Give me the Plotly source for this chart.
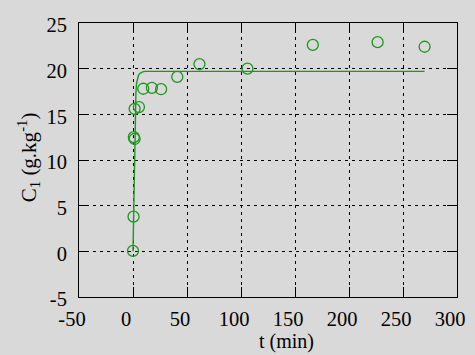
import plotly.graph_objects as go

# Measured data (t in min, C1 in g/kg)
t_obs = [0, 0.5, 0.8, 1.5, 1.5, 5.5, 9.5, 17.5, 26, 41, 61.5, 106, 166.5, 226.5, 270]
c_obs = [0.05, 3.8, 12.5, 12.3, 15.6, 15.8, 17.8, 17.9, 17.75, 19.1, 20.5, 20.0, 22.6, 22.9, 22.4]

# Model curve
t_fit = [0, 0.7, 1.4, 2.0, 2.7, 3.3, 4.0, 5.0, 6.0, 7.5, 9.0, 11, 270]
c_fit = [0, 6.0, 12.0, 15.2, 17.4, 18.4, 18.9, 19.25, 19.45, 19.6, 19.65, 19.7, 19.7]

x_ticks = [-50, 0, 50, 100, 150, 200, 250, 300]
y_ticks = [-5, 0, 5, 10, 15, 20, 25]

GREEN = "#1f961f"
BG = "#d9d9d9"
FONT = "Liberation Serif"

fig = go.Figure()
fig.add_trace(go.Scatter(x=t_fit, y=c_fit, mode="lines",
                         line=dict(color=GREEN, width=1.4), showlegend=False))
fig.add_trace(go.Scatter(x=t_obs, y=c_obs, mode="markers",
                         marker=dict(symbol="circle-open", size=11, color=GREEN,
                                     line=dict(width=1.3, color=GREEN)),
                         showlegend=False))

axis_common = dict(
    showline=True, linecolor="black", linewidth=1, mirror="ticks",
    ticks="inside", ticklen=10, tickwidth=1, tickcolor="black",
    showgrid=True, gridcolor="black", gridwidth=1, griddash="3px,4px",
    zeroline=False, tickfont=dict(family=FONT, size=20.5, color="black"),
)

fig.update_xaxes(range=[-50, 300], tickvals=x_ticks, ticktext=[str(v) for v in x_ticks],
                 ticklabelshift=-7, ticklabelstandoff=3, **axis_common)
fig.update_yaxes(range=[-5, 25], tickvals=y_ticks, ticktext=[str(v) for v in y_ticks],
                 ticklabelshift=2, ticklabelstandoff=7, **axis_common)

fig.update_layout(
    width=475, height=355,
    margin=dict(l=79, r=10, t=23, b=58),
    paper_bgcolor=BG, plot_bgcolor=BG,
    annotations=[
        dict(text="t (min)", xref="paper", yref="paper", x=0.549, y=-0.209,
             xanchor="center", yanchor="bottom", showarrow=False, borderpad=0,
             font=dict(family=FONT, size=20, color="black")),
        dict(text="C<sub>1</sub> (g.kg<sup>-1</sup>)", xref="paper", yref="paper",
             x=-0.135, y=0.51, xanchor="center", yanchor="middle", textangle=-90,
             showarrow=False, font=dict(family=FONT, size=21, color="black")),
    ],
)

fig.write_html("out.html")
